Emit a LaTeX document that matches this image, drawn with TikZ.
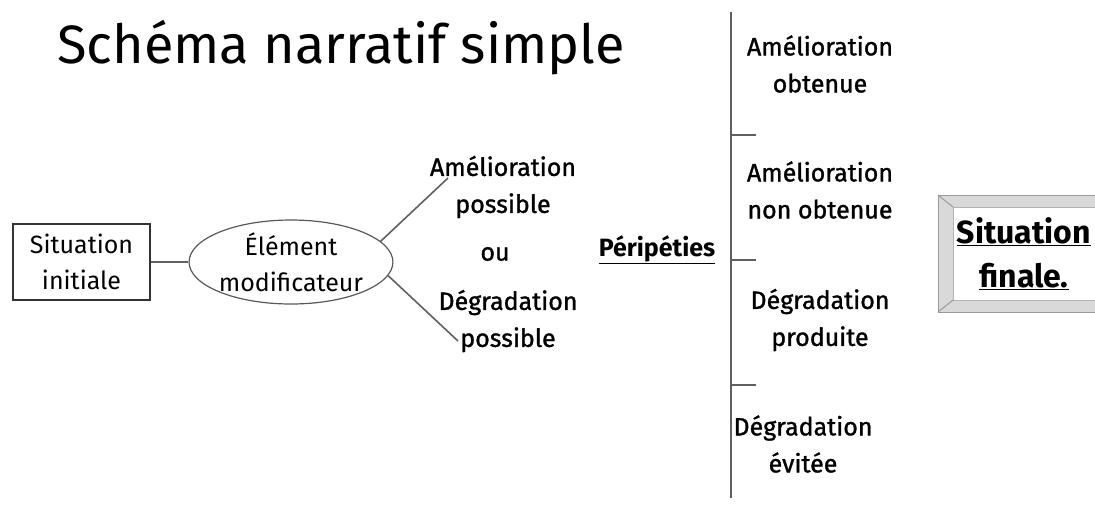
\documentclass[tikz,border=0pt]{standalone}
\usepackage{fontspec}
\setmainfont{Fira Sans}
\newfontface\medfont[FakeBold=1.2]{Fira Sans}
\usetikzlibrary{shapes.geometric}
\begin{document}
\begin{tikzpicture}[x=1pt,y=-1pt,
  conn/.style={draw=gray!75!black, line width=1.6pt},
  txt/.style={align=center, inner sep=0pt, font=\fontsize{25}{36}\selectfont},
  med/.style={align=center, inner sep=0pt, font=\fontsize{25}{37}\medfont},
]
\useasboundingbox (0,0) rectangle (1095,507);
\clip (0,0) rectangle (1095,507);
\fill[white] (0,0) rectangle (1095,507);

% title
\node[font=\fontsize{54}{60}\selectfont, inner sep=0pt] (title) at (341,48) {Schéma narratif simple};

% left part
\node[draw=black!80, line width=1.3pt, minimum width=137pt, minimum height=76pt, txt] (init) at (81.5,262) {Situation\\initiale};
\node[ellipse, draw=gray!70!black, line width=1.2pt, minimum width=200pt, minimum height=84pt, txt] (elem) at (291,262) {Élément\\modificateur};
\draw[conn] (init.east) -- (elem.west);

% branches
\node[med] (amel) at (503,187) {Amélioration\\possible};
\node[med] (ou) at (495,254) {ou};
\node[med] (degr) at (508,321) {Dégradation\\possible};
\coordinate (up) at (448,178);
\coordinate (dn) at (458,341);
\draw[conn] (elem.13) -- (up);
\draw[conn] (elem.-8) -- (dn);

% peripeties
\node[font=\fontsize{25}{30}\bfseries, inner sep=0pt] (peri) at (657,250) {\underline{Péripéties}};

% vertical line with ticks
\coordinate (vtop) at (731,12);
\coordinate (vbot) at (731,498);
\draw[conn] (vtop) -- (vbot);
\foreach \y/\n in {135/a,260/b,385/c}{
  \coordinate (t\n) at (731,\y);
  \coordinate (e\n) at (756,\y);
  \draw[conn] (t\n) -- (e\n);
}

\node[med] (r1) at (820,64) {Amélioration\\obtenue};
\node[med] (r2) at (820,190) {Amélioration\\non obtenue};
\node[med] (r3) at (820,320) {Dégradation\\produite};
\node[med] (r4) at (803,444) {Dégradation\\évitée};

% situation finale frame
\fill[gray!30, draw=gray!80, line width=1pt] (938,195) rectangle (1110,312);
\fill[white, draw=gray!60, line width=1pt] (953,207) rectangle (1110,300);
\draw[gray!80, line width=1pt] (938,195) -- (953,207);
\draw[gray!80, line width=1pt] (938,312) -- (953,300);
\node[font=\fontsize{32}{44}\bfseries, align=center, inner sep=0pt] (fin) at (1024,254) {\underline{Situation}\\\underline{finale.}};
\end{tikzpicture}
\end{document}
